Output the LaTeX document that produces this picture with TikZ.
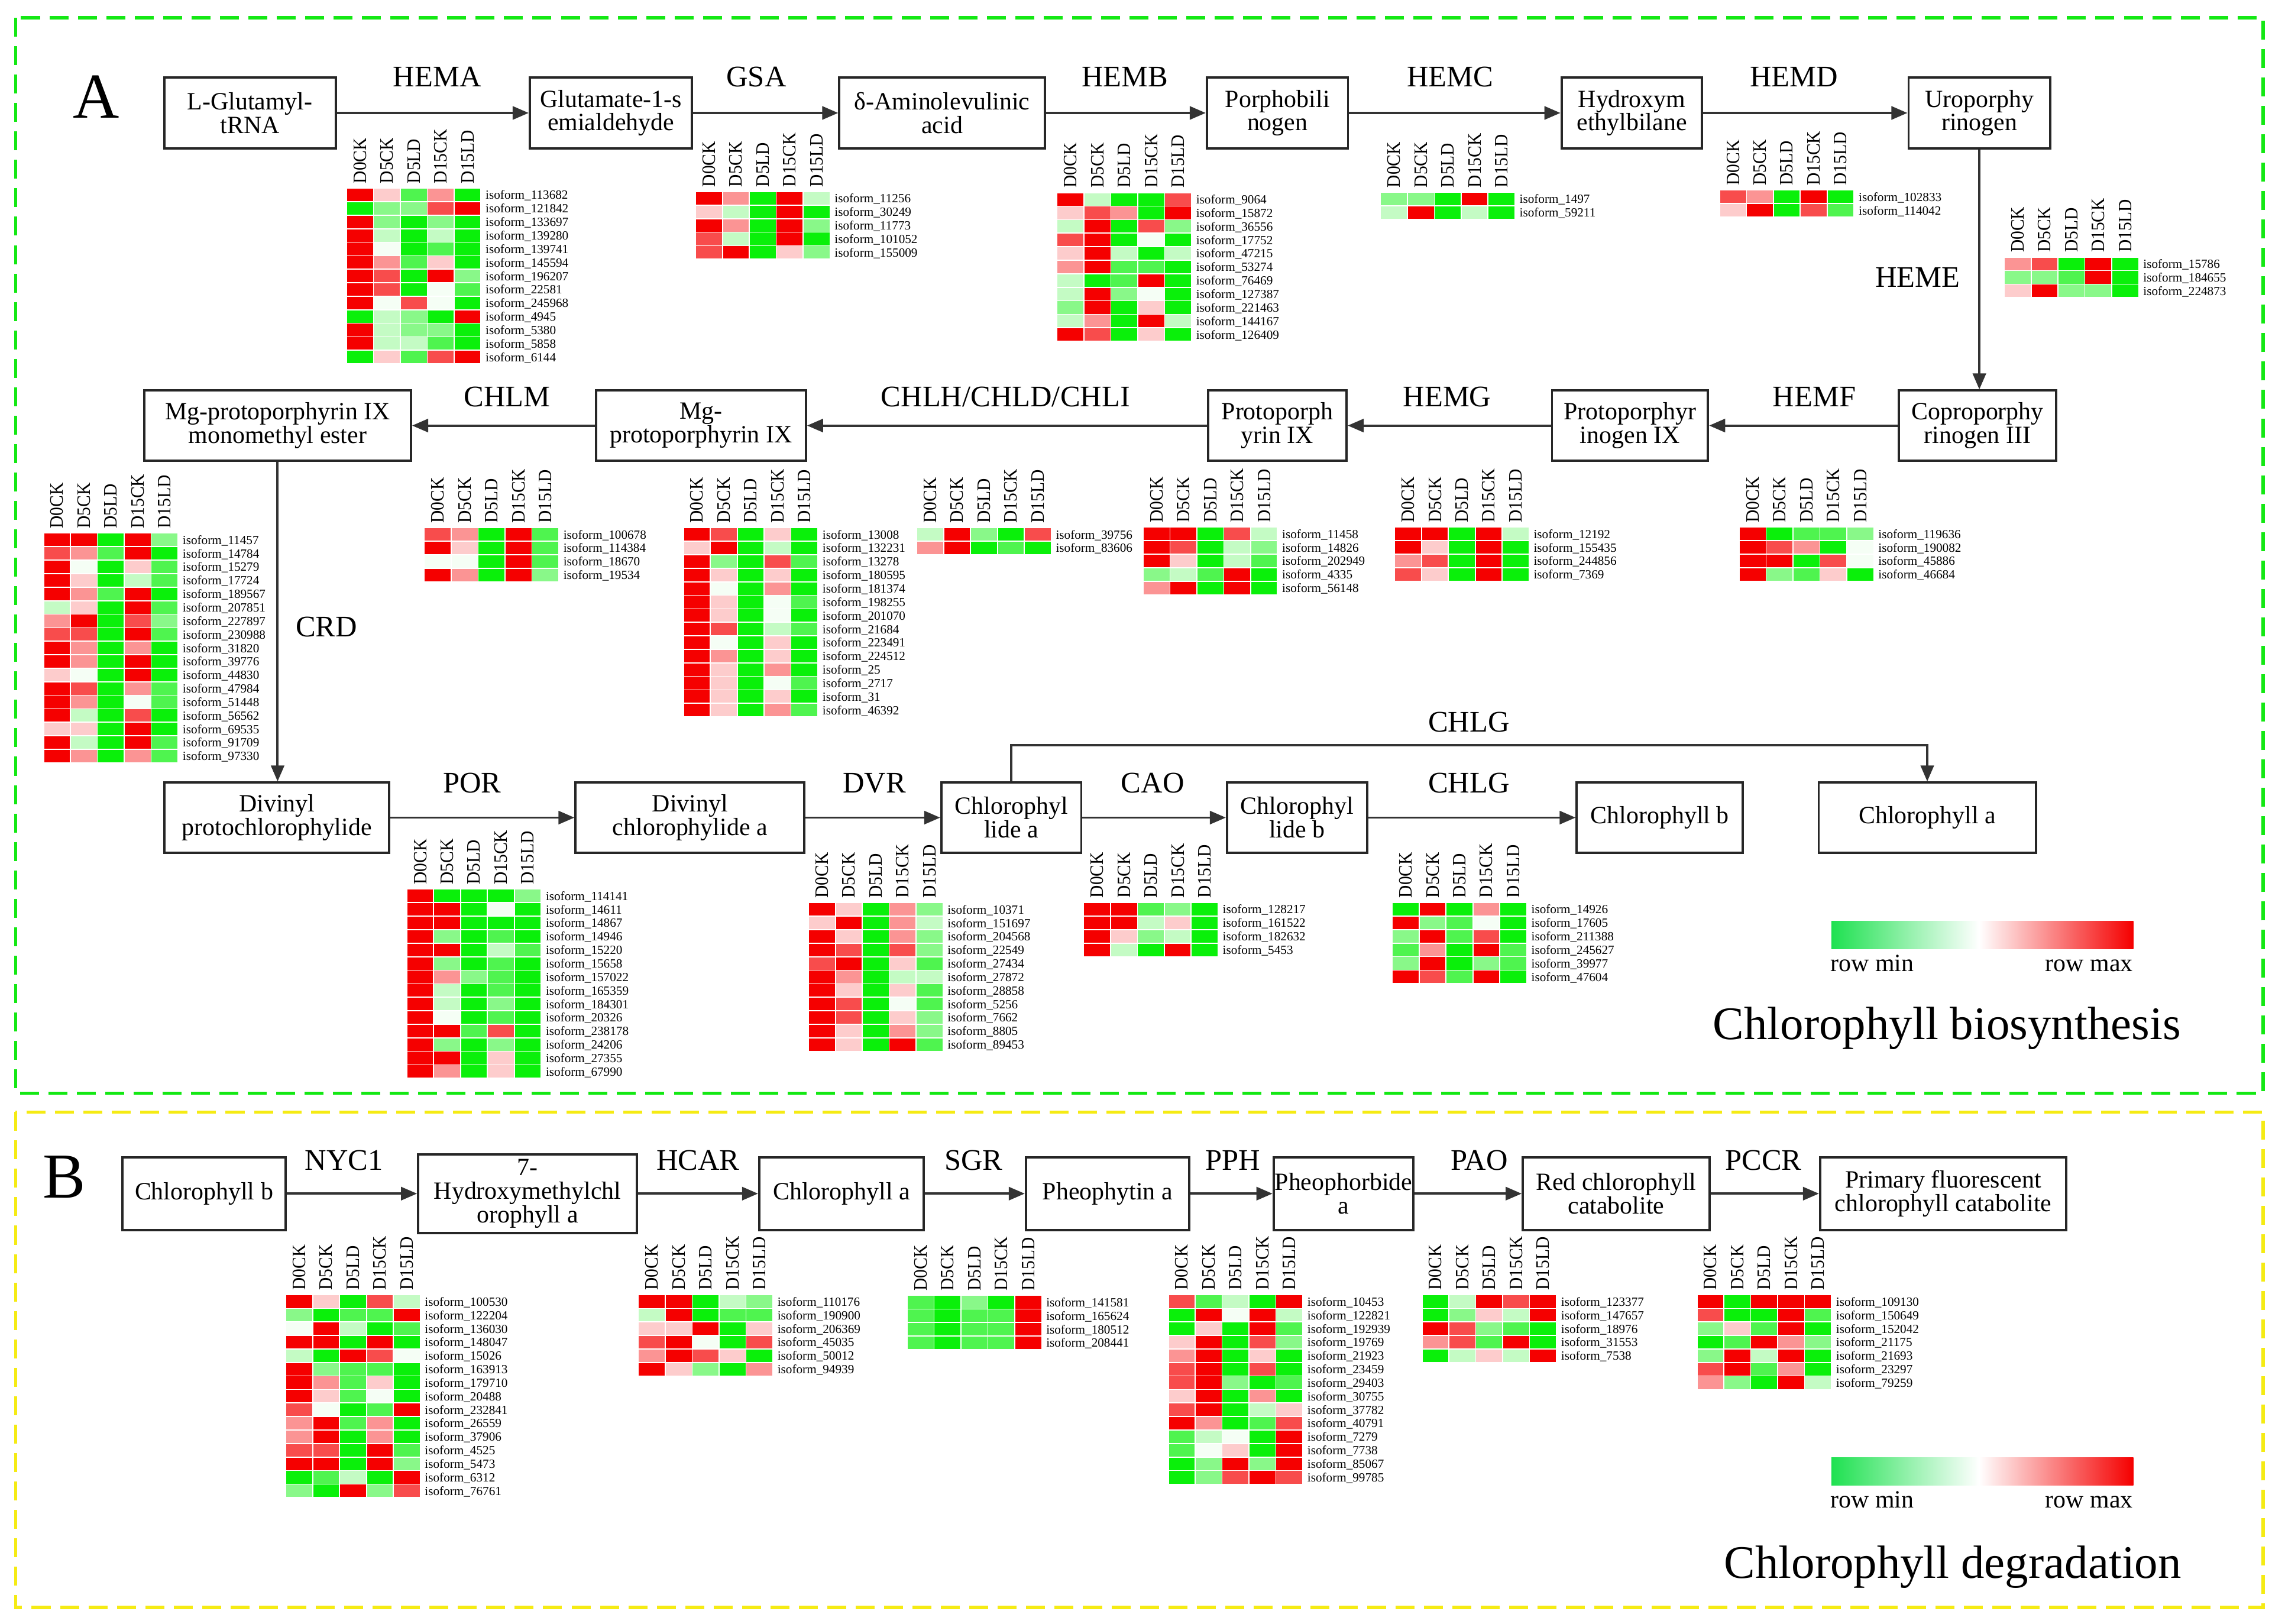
\documentclass[tikz,border=0pt]{standalone}
\usepackage{fontspec}
\setmainfont{Liberation Serif}
\usepackage{graphicx}
\usetikzlibrary{arrows.meta}
\definecolor{G}{RGB}{10,240,10}
\definecolor{R}{RGB}{245,0,0}
\colorlet{h0}{G}
\colorlet{h1}{G!72!white}
\colorlet{h2}{G!48!white}
\colorlet{h3}{G!24!white}
\colorlet{h4}{G!4!white}
\colorlet{h5}{R!20!white}
\colorlet{h6}{R!42!white}
\colorlet{h7}{R!70!white}
\colorlet{h8}{R}
\definecolor{frameG}{RGB}{20,232,20}
\definecolor{frameY}{RGB}{245,235,20}
\definecolor{legG}{RGB}{30,225,80}
\def\cw{18.45}
\def\rh{9.27}
\tikzset{
 pbox/.style={draw=black!85, line width=1.6pt, fill=white, align=center, inner sep=0.5pt, font=\fontsize{17}{16.2}\selectfont},
 arr/.style={draw=black!80, line width=1.6pt, -{Triangle[length=11pt,width=9pt]}},
 elab/.style={anchor=base, inner sep=0pt, font=\fontsize{20.5}{22}\selectfont},
 colh/.style={rotate=90, anchor=west, inner sep=0pt, font=\fontsize{13}{13}\selectfont},
 isol/.style={anchor=base west, inner sep=0pt, font=\fontsize{8.6}{9}\selectfont},
 cell/.style={draw=white, line width=0.7pt},
 legt/.style={anchor=base, inner sep=0pt, font=\fontsize{17}{18}\selectfont},
 ttl/.style={anchor=base, inner sep=0pt, font=\fontsize{32}{36}\selectfont},
 sect/.style={anchor=base, inner sep=0pt, font=\fontsize{44}{44}\selectfont},
 dframe/.style={line width=2.2pt, dash pattern=on 13pt off 6.5pt},
}
\newcommand{\bx}[6]{%
 \pgfmathsetmacro\bw{#3-#2}\pgfmathsetmacro\bh{#5-#4}%
 \pgfmathsetmacro\bxc{(#2+#3)/2}\pgfmathsetmacro\byc{(#4+#5)/2}%
 \node[pbox, minimum width=\bw pt, minimum height=\bh pt] (#1) at (\bxc,\byc) {#6};}
\newcommand{\hm}[4]{%
 \foreach \cl [count=\j from 0] in {D0CK,D5CK,D5LD,D15CK,D15LD}{
   \node[colh] (#1c\j) at ({#2+(\j+0.5)*\cw},{#3-3}) {\scalebox{0.92}[1]{\cl}};}
 \foreach \va/\vb/\vc/\vd/\ve/\lab [count=\i from 0] in {#4}{
   \foreach \vv [count=\k from 0] in {\va,\vb,\vc,\vd,\ve}{
     \filldraw[cell, fill=h\vv] ({#2+\k*\cw},{#3+\i*\rh}) rectangle ({#2+(\k+1)*\cw},{#3+(\i+1)*\rh});}
   \node[isol] (#1r\i) at ({#2+5*\cw+3},{#3+(\i+0.5)*\rh+3}) {isoform\_\lab};
 }}
\begin{document}
\begin{tikzpicture}[x=1pt,y=-1pt]
\fill[white] (0,0) rectangle (1568,1114);
\useasboundingbox (0,0) rectangle (1568,1114);
% frames
\draw[dframe, frameG] (10.7,12.2) rectangle (1553,750);
\draw[dframe, frameY] (10.7,763) rectangle (1553,1103);
\node[sect] (lA) at (66,81) {A};
\node[sect] (lB) at (44,822) {B};
% row 1
\bx{lglu}{112.7}{230.3}{53}{102}{L-Glutamyl-\\tRNA}
\bx{glu}{363.6}{474.8}{53}{102}{Glutamate-1-s\\emialdehyde}
\bx{ala}{576}{717}{53}{102}{δ-Aminolevulinic\\acid}
\bx{pbg}{828.2}{925}{53}{102}{Porphobili\\nogen}
\bx{hmb}{1071.6}{1168}{53}{102}{Hydroxym\\ethylbilane}
\bx{uro}{1309.7}{1406.8}{53}{102}{Uroporphy\\rinogen}
% row 2
\bx{copro}{1303}{1411}{268}{316}{Coproporphy\\rinogen III}
\bx{protogen}{1065}{1172}{268}{316}{Protoporphyr\\inogen IX}
\bx{proto}{829}{924}{268}{316}{Protoporph\\yrin IX}
\bx{mgp}{409}{553}{268}{316}{Mg-\\protoporphyrin IX}
\bx{mgme}{99}{282}{268}{316}{Mg-protoporphyrin IX\\monomethyl ester}
% row 3
\bx{dvpc}{113}{267}{537}{585}{Divinyl\\protochlorophylide}
\bx{dvca}{395}{552}{537}{585}{Divinyl\\chlorophylide a}
\bx{chlida}{646}{742}{537}{585}{Chlorophyl\\lide a}
\bx{chlidb}{842}{938}{537}{585}{Chlorophyl\\lide b}
\bx{chlb}{1082}{1196}{537}{585}{Chlorophyll b}
\bx{chla}{1248}{1397}{537}{585}{Chlorophyll a}
% row B
\bx{bchlb}{84}{196}{794}{844}{Chlorophyll b}
\bx{hmc}{287}{437}{792}{846}{7-\\Hydroxymethylchl\\orophyll a}
\bx{bchla}{521}{634}{794}{844}{Chlorophyll a}
\bx{pheo}{704}{816}{794}{844}{Pheophytin a}
\bx{pheoide}{874}{970}{794}{844}{Pheophorbide\\a}
\bx{rcc}{1045}{1173}{794}{844}{Red chlorophyll\\catabolite}
\bx{pfcc}{1249}{1418}{794}{844}{Primary fluorescent\\chlorophyll catabolite}
% arrows
\draw[arr] (lglu.east) -- (glu.west);
\draw[arr] (glu.east) -- (ala.west);
\draw[arr] (ala.east) -- (pbg.west);
\draw[arr] (pbg.east) -- (hmb.west);
\draw[arr] (hmb.east) -- (uro.west);
\draw[arr] (uro.south) -- (uro.south |- copro.north);
\draw[arr] (copro.west) -- (protogen.east);
\draw[arr] (protogen.west) -- (proto.east);
\draw[arr] (proto.west) -- (mgp.east);
\draw[arr] (mgp.west) -- (mgme.east);
\draw[arr] (mgme.south) -- (mgme.south |- dvpc.north);
\draw[arr] (dvpc.east) -- (dvca.west);
\draw[arr] (dvca.east) -- (chlida.west);
\draw[arr] (chlida.east) -- (chlidb.west);
\draw[arr] (chlidb.east) -- (chlb.west);
\draw[arr] (chlida.north) -- ++(0,-25) -| (chla.north);
\draw[arr] (bchlb.east) -- (hmc.west);
\draw[arr] (hmc.east) -- (bchla.west);
\draw[arr] (bchla.east) -- (pheo.west);
\draw[arr] (pheo.east) -- (pheoide.west);
\draw[arr] (pheoide.east) -- (rcc.west);
\draw[arr] (rcc.east) -- (pfcc.west);
% enzyme labels
\node[elab] (eHEMA) at (300,59.5) {HEMA};
\node[elab] (eGSA) at (519,59.5) {GSA};
\node[elab] (eHEMB) at (772,59.5) {HEMB};
\node[elab] (eHEMC) at (995,59.5) {HEMC};
\node[elab] (eHEMD) at (1231,59.5) {HEMD};
\node[elab] (eHEME) at (1316,197) {HEME};
\node[elab] (eHEMF) at (1245,279) {HEMF};
\node[elab] (eHEMG) at (993,279) {HEMG};
\node[elab] (eCHLH) at (690,279) {CHLH/CHLD/CHLI};
\node[elab] (eCHLM) at (348,279) {CHLM};
\node[elab] (eCRD) at (224,437) {CRD};
\node[elab] (ePOR) at (324,544) {POR};
\node[elab] (eDVR) at (600,544) {DVR};
\node[elab] (eCAO) at (791,544) {CAO};
\node[elab] (eCHLG) at (1008,544) {CHLG};
\node[elab] (eCHLGt) at (1008,502) {CHLG};
\node[elab] (eNYC) at (236,803) {NYC1};
\node[elab] (eHCAR) at (479,803) {HCAR};
\node[elab] (eSGR) at (668,803) {SGR};
\node[elab] (ePPH) at (846,803) {PPH};
\node[elab] (ePAO) at (1015,803) {PAO};
\node[elab] (ePCCR) at (1210,803) {PCCR};
% heatmaps
\hm{hema}{237.8}{129.1}{8/5/1/6/0/113682, 0/2/2/7/8/121842, 8/2/0/2/0/133697, 8/3/0/3/0/139280, 8/4/0/1/0/139741, 8/6/1/5/0/145594, 8/7/0/8/2/196207, 8/7/0/4/1/22581, 8/4/7/4/0/245968, 0/3/2/0/8/4945, 8/3/2/2/0/5380, 8/3/3/1/0/5858, 0/5/1/7/8/6144}
\hm{gsa}{477.3}{131.5}{8/6/0/8/3/11256, 5/3/0/8/0/30249, 8/6/0/8/2/11773, 7/3/0/8/0/101052, 7/8/0/5/2/155009}
\hm{hemb}{725.4}{132.2}{8/3/0/0/7/9064, 5/7/6/0/8/15872, 3/8/0/7/2/36556, 7/8/0/4/0/17752, 5/8/3/0/3/47215, 6/8/1/1/0/53274, 3/0/1/8/0/76469, 3/8/2/4/0/127387, 2/8/0/5/0/221463, 3/6/0/8/3/144167, 8/7/0/5/0/126409}
\hm{hemc}{947.3}{131.9}{2/2/0/8/0/1497, 3/8/0/3/0/59211}
\hm{hemd}{1180}{130.4}{7/6/0/8/0/102833, 5/8/0/7/1/114042}
\hm{heme}{1375.3}{176.4}{6/7/0/8/0/15786, 2/2/1/8/0/184655, 5/8/2/2/0/224873}
\hm{crd}{29.9}{365.8}{8/8/0/8/2/11457, 7/6/1/8/0/14784, 8/4/0/5/1/15279, 8/5/0/3/1/17724, 8/6/1/8/0/189567, 3/5/0/8/1/207851, 6/8/0/7/2/227897, 7/7/0/8/1/230988, 8/6/0/6/0/31820, 8/6/0/8/0/39776, 5/4/0/8/0/44830, 8/7/0/6/1/47984, 8/6/0/4/1/51448, 8/3/0/7/0/56562, 5/5/0/8/0/69535, 8/3/0/8/1/91709, 8/6/0/6/1/97330}
\hm{chlm}{291.2}{362.1}{7/6/0/8/1/100678, 8/5/0/8/1/114384, 4/4/0/8/1/18670, 8/6/0/8/2/19534}
\hm{chlh}{469}{362.1}{8/7/0/5/0/13008, 5/8/0/3/0/132231, 8/2/0/7/1/13278, 8/5/0/5/0/180595, 8/4/0/6/0/181374, 8/5/0/4/1/198255, 8/5/0/4/0/201070, 8/7/0/3/1/21684, 8/4/0/5/0/223491, 8/6/0/5/0/224512, 8/5/0/6/0/25, 8/5/0/4/1/2717, 8/5/0/5/0/31, 8/5/0/6/1/46392}
\hm{chli}{629.1}{362.1}{3/8/2/0/7/39756, 6/8/0/1/0/83606}
\hm{hemg}{784.4}{361.7}{8/8/0/7/3/11458, 8/7/0/3/2/14826, 8/5/0/3/1/202949, 2/3/1/8/0/4335, 6/8/0/8/0/56148}
\hm{hemf}{957}{361.7}{8/8/0/8/3/12192, 8/5/0/8/0/155435, 6/7/0/8/0/244856, 7/5/0/8/0/7369}
\hm{cpg}{1193.5}{361.7}{8/0/1/1/2/119636, 8/7/6/0/4/190082, 8/8/0/7/4/45886, 8/2/1/5/0/46684}
\hm{por}{279.1}{610.1}{8/0/0/0/2/114141, 8/8/0/4/0/14611, 8/8/0/0/0/14867, 8/2/0/1/0/14946, 8/8/0/3/1/15220, 8/2/0/1/0/15658, 8/6/2/1/0/157022, 8/3/0/1/0/165359, 8/3/0/2/0/184301, 8/4/0/1/0/20326, 8/8/1/7/0/238178, 8/2/0/2/0/24206, 8/8/0/5/0/27355, 8/6/0/5/0/67990}
\hm{dvr}{554.8}{619.4}{8/5/0/6/2/10371, 5/8/0/6/3/151697, 8/5/0/6/2/204568, 8/7/0/7/2/22549, 7/8/0/5/1/27434, 8/6/0/3/3/27872, 8/5/0/5/1/28858, 8/7/0/4/1/5256, 8/7/0/5/2/7662, 8/5/0/6/2/8805, 8/5/0/8/1/89453}
\hm{cao}{743.6}{619.3}{8/8/1/2/0/128217, 8/8/3/5/0/161522, 8/5/2/3/0/182632, 8/3/0/8/0/5453}
\hm{chlg}{955.4}{619.3}{0/8/0/6/0/14926, 8/2/1/4/0/17605, 2/8/1/7/0/211388, 1/6/0/8/1/245627, 2/8/0/2/1/39977, 8/7/1/8/0/47604}
\hm{nyc}{196.1}{888.5}{8/5/0/7/3/100530, 2/0/1/1/8/122204, 4/8/3/0/1/136030, 8/8/0/8/0/148047, 3/0/8/7/4/15026, 8/2/1/1/0/163913, 8/6/1/5/0/179710, 8/5/1/4/0/20488, 7/4/0/1/8/232841, 6/8/1/6/0/26559, 6/8/0/6/0/37906, 7/7/0/8/1/4525, 8/8/0/8/2/5473, 0/1/3/0/8/6312, 2/0/8/2/7/76761}
\hm{hcar}{438.1}{888.5}{8/8/0/3/2/110176, 3/8/0/1/1/190900, 5/5/8/0/5/206369, 7/8/4/0/7/45035, 6/8/7/5/0/50012, 8/5/2/0/6/94939}
\hm{sgr}{622.5}{888.9}{1/0/2/0/8/141581, 1/0/1/1/8/165624, 1/0/1/1/8/180512, 1/0/1/1/8/208441}
\hm{pph}{801.7}{888.5}{7/1/3/0/8/10453, 0/8/4/8/3/122821, 0/5/0/8/1/192939, 5/8/0/7/2/19769, 6/8/0/5/0/21923, 7/8/0/7/0/23459, 7/8/2/0/1/29403, 5/8/0/6/0/30755, 7/8/0/3/5/37782, 8/6/0/1/7/40791, 1/3/4/0/8/7279, 1/4/5/0/8/7738, 0/2/8/2/8/85067, 0/2/7/8/7/99785}
\hm{pao}{975.8}{888.5}{0/3/8/7/8/123377, 0/2/5/3/8/147657, 8/7/2/1/0/18976, 6/7/1/8/0/31553, 0/3/5/3/8/7538}
\hm{pccr}{1164.5}{888.5}{8/0/8/8/8/109130, 7/0/0/8/1/150649, 2/5/1/8/0/152042, 0/1/8/6/2/21175, 2/8/3/8/0/21693, 7/8/1/6/0/23297, 6/2/0/8/3/79259}
% legends
\shade[left color=legG, right color=white] (1256.7,632.2) rectangle (1358,651.1);
\shade[left color=white, right color=R] (1358,632.2) rectangle (1463.9,651.1);
\node[legt] (min1) at (1284.7,666.7) {row min};
\node[legt] (max1) at (1433.6,666.7) {row max};
\node[ttl] (title1) at (1336,713) {Chlorophyll biosynthesis};
\shade[left color=legG, right color=white] (1256.7,1000.2) rectangle (1358,1019.1);
\shade[left color=white, right color=R] (1358,1000.2) rectangle (1463.9,1019.1);
\node[legt] (min2) at (1284.7,1034.7) {row min};
\node[legt] (max2) at (1433.6,1034.7) {row max};
\node[ttl] (title2) at (1340,1083) {Chlorophyll degradation};
\end{tikzpicture}
\end{document}
